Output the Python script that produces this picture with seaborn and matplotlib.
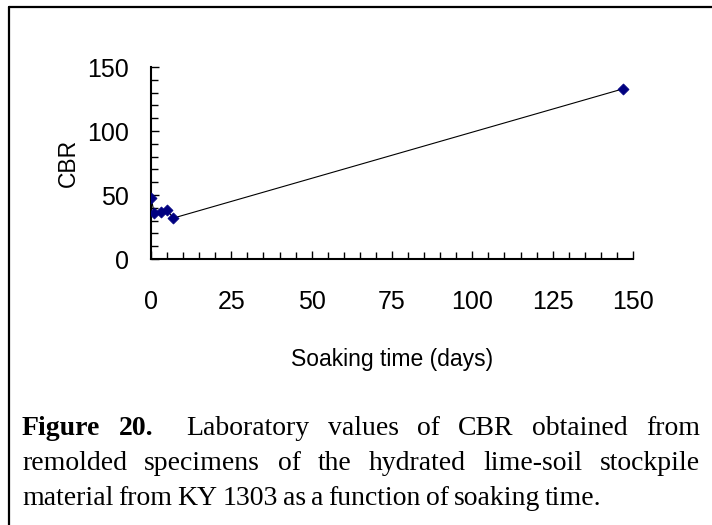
import matplotlib
matplotlib.use("Agg")
import matplotlib.pyplot as plt
import matplotlib.lines as mlines
from matplotlib.ticker import MultipleLocator
import seaborn as sns
import pandas as pd

# Datos
soak_days = [0, 1, 3, 5, 7, 147]
cbr_values = [48, 36, 37, 38, 32, 133]
x_ticks = [0, 25, 50, 75, 100, 125, 150]
y_ticks = [0, 50, 100, 150]

caption_lines = [
    ["Figure", "20.", "Laboratory", "values", "of", "CBR", "obtained", "from"],
    ["remolded", "specimens", "of", "the", "hydrated", "lime-soil", "stockpile"],
    ["material", "from", "KY", "1303", "as", "a", "function", "of", "soaking", "time."],
]

df = pd.DataFrame({"days": soak_days, "cbr": cbr_values})

sns.set_theme(style="white")
plt.rcParams["font.family"] = ["Liberation Sans", "DejaVu Sans"]
plt.rcParams["text.color"] = "black"
plt.rcParams["axes.labelcolor"] = "black"
plt.rcParams["xtick.color"] = "black"
plt.rcParams["ytick.color"] = "black"

W, H = 712, 525
fig = plt.figure(figsize=(W / 100, H / 100), dpi=100)
ax = fig.add_axes([151 / W, 1 - 259 / H, (633 - 151) / W, (259 - 67) / H])

sns.lineplot(data=df, x="days", y="cbr", ax=ax, color="black", lw=0.8, sort=False)
sns.scatterplot(data=df, x="days", y="cbr", ax=ax, marker="D", color="#000080",
                s=32, edgecolor="#000080", linewidth=0.5, zorder=3)

ax.set_xlim(0, 150)
ax.set_ylim(0, 150)
ax.set_xticks(x_ticks)
ax.set_yticks(y_ticks)
ax.xaxis.set_minor_locator(MultipleLocator(5))
ax.yaxis.set_minor_locator(MultipleLocator(10))
ax.tick_params(axis="both", which="both", direction="in", color="black",
               labelcolor="black", labelsize=18, width=1.0, bottom=True,
               left=True, top=False, right=False)
ax.tick_params(axis="both", which="major", length=6)
ax.tick_params(axis="both", which="minor", length=5)
ax.tick_params(axis="x", which="major", pad=22)
ax.tick_params(axis="y", which="major", pad=16)
for side in ["top", "right"]:
    ax.spines[side].set_visible(False)
for side in ["left", "bottom"]:
    ax.spines[side].set_color("black")
    ax.spines[side].set_linewidth(1.5)
ax.set_xlabel("Soaking time (days)", fontsize=16.5, labelpad=25, color="black")
ax.set_ylabel("CBR", fontsize=16.5, labelpad=5, color="black")

# Marco (solo izquierda y arriba)
fig.add_artist(mlines.Line2D([9 / W, 9 / W], [0, 1 - 7 / H], color="black", lw=1.6))
fig.add_artist(mlines.Line2D([9 / W, 1], [1 - 7 / H, 1 - 7 / H], color="black", lw=1.6))

# Leyenda de la figura, justificada
serif = ["Liberation Serif", "DejaVu Serif"]
cap_size = 20
left_px, right_px = 22, 700
baselines = [435, 470, 505]
renderer = fig.canvas.get_renderer()
for li, words in enumerate(caption_lines):
    y = 1 - baselines[li] / H
    texts = []
    for wi, w in enumerate(words):
        bold = li == 0 and wi < 2
        t = fig.text(0, y, w, fontsize=cap_size, family=serif, color="black",
                     weight="bold" if bold else "normal", va="baseline", ha="left")
        texts.append(t)
    widths = [t.get_window_extent(renderer).width for t in texts]
    space = cap_size * 0.25
    weights = [1.8 if (li == 0 and i == 1) else 1 for i in range(len(words) - 1)]
    if li < 2:
        gap = (right_px - left_px - sum(widths)) / sum(weights)
    else:
        gap = space * 1.0
    x = left_px
    for i, t in enumerate(texts):
        t.set_x(x / W)
        if i < len(weights):
            x += widths[i] + gap * weights[i]

fig.savefig("out.png", dpi=100)
